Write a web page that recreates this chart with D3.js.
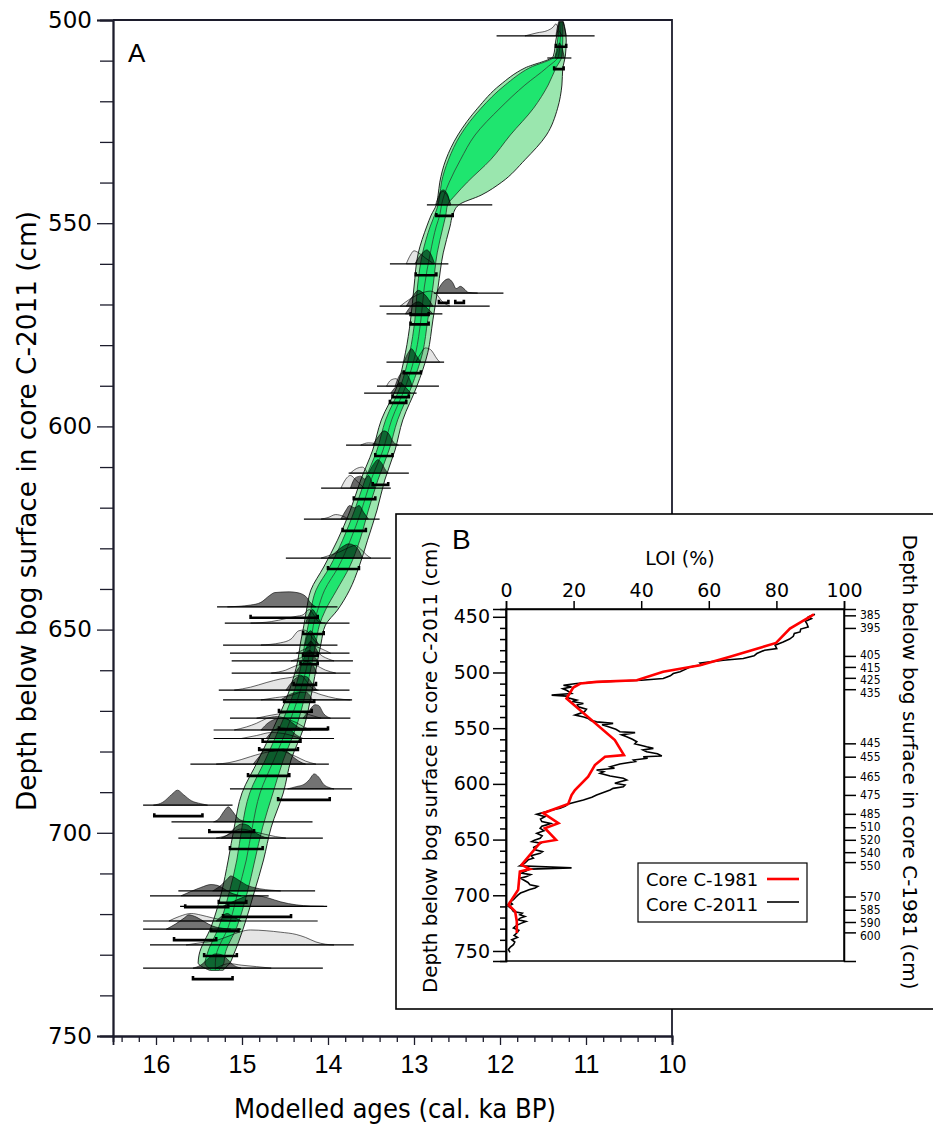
<!DOCTYPE html>
<html><head><meta charset="utf-8">
<script src="https://cdn.jsdelivr.net/npm/d3@7"></script>
<style>body{margin:0;background:#fff}svg{display:block}</style>
</head><body>
<svg id="c" width="933" height="1126"></svg>
<script>
// ---------------- Panel A : age-depth model envelope ----------------
const envDepth   = [500.5,504.9,508.9,511.8,516.0,521.7,528.3,534.4,539.9,543.1,545.5,548.0,550.7,557.3,565.7,573.8,581.9,590.3,598.4,605.8,613.2,620.6,628.0,634.6,640.3,645.2,648.9,653.3,657.5,665.6,674.0,682.1,690.2,698.6,706.7,714.8,723.2,730.1,732.0,733.8];
const envOld95   = [11.31,11.35,11.38,11.71,12.00,12.26,12.49,12.63,12.70,12.72,12.74,12.80,12.85,12.95,13.00,13.04,13.10,13.20,13.38,13.48,13.62,13.74,13.89,14.05,14.20,14.25,14.28,14.32,14.35,14.46,14.63,14.81,15.00,15.09,15.16,15.24,15.36,15.50,15.51,15.38];
const envOld68   = [11.305,11.33,11.36,11.66,11.94,12.22,12.46,12.60,12.68,12.70,12.72,12.76,12.81,12.90,12.96,12.99,13.05,13.16,13.33,13.43,13.57,13.69,13.83,13.98,14.14,14.20,14.23,14.27,14.30,14.40,14.56,14.73,14.91,15.00,15.06,15.15,15.27,15.41,15.43,15.36];
const envMed     = [11.29,11.30,11.32,11.46,11.71,12.00,12.29,12.46,12.59,12.65,12.68,12.70,12.74,12.81,12.88,12.92,12.98,13.10,13.26,13.36,13.50,13.61,13.74,13.88,14.04,14.12,14.17,14.20,14.23,14.33,14.47,14.63,14.79,14.88,14.95,15.05,15.16,15.30,15.31,15.31];
const envYoung68 = [11.27,11.27,11.28,11.35,11.44,11.61,11.88,12.11,12.38,12.52,12.61,12.63,12.66,12.73,12.78,12.84,12.90,13.03,13.19,13.29,13.42,13.53,13.63,13.75,13.90,14.03,14.10,14.14,14.18,14.26,14.37,14.52,14.64,14.76,14.85,14.94,15.06,15.20,15.21,15.27];
const envYoung95 = [11.265,11.23,11.24,11.27,11.28,11.33,11.46,11.71,11.98,12.22,12.48,12.55,12.58,12.66,12.72,12.78,12.84,12.97,13.13,13.22,13.34,13.43,13.54,13.64,13.75,13.89,14.03,14.08,14.12,14.19,14.28,14.43,14.52,14.66,14.75,14.86,14.98,15.10,15.14,15.22];

// ---------------- Panel A : dated levels ----------------
// d: depth (cm); base: age span of baseline (ka); like: unmodelled probability [age, rel. density];
// post: modelled probability; br: 95% ranges; bd: depth of range bar
const samples = [
 {d:503.9,base:[12.04,10.90],like:[[11.71,0],[11.57,0.2],[11.45,0.35],[11.38,0.6],[11.35,0.8],[11.31,0.3],[11.27,0]],post:[[11.35,0],[11.32,0.9],[11.30,1.07],[11.27,1.0],[11.23,0]],br:[[11.35,11.23]],bd:506.6},
 {d:509.35,base:[11.45,11.17],like:[],post:[[11.36,0],[11.33,0.6],[11.31,1.0],[11.28,0.7],[11.25,0]],br:[[11.37,11.26]],bd:512.1},
 {d:545.5,base:[12.85,12.09],like:[[12.75,0],[12.71,0.6],[12.67,0.9],[12.62,0.7],[12.57,0]],post:[[12.73,0],[12.69,0.9],[12.66,1.0],[12.61,0.7],[12.58,0]],br:[[12.74,12.55]],bd:548.2},
 {d:560.0,base:[13.28,12.60],like:[[13.09,0],[13.04,0.6],[13.00,0.87],[12.95,0.75],[12.87,0.4],[12.77,0]],post:[[12.99,0],[12.92,0.6],[12.85,0.93],[12.81,0.7],[12.76,0]],br:[[12.98,12.74]],bd:562.8},
 {d:567.2,base:[12.77,11.96],like:[],post:[[12.74,0],[12.66,0.75],[12.60,0.95],[12.55,0.7],[12.51,0.3],[12.46,0.45],[12.42,0.3],[12.37,0.05],[12.26,0]],br:[[12.71,12.60],[12.52,12.42]],bd:569.6},
 {d:570.4,base:[13.40,12.12],like:[[13.16,0],[13.04,0.5],[12.92,0.85],[12.81,1.0],[12.74,0.8],[12.67,0.3],[12.58,0]],post:[[13.09,0],[13.01,0.7],[12.95,1.05],[12.88,0.8],[12.78,0]],br:[[13.04,12.83]],bd:572.6},
 {d:572.3,base:[13.32,12.67],like:[],post:[[13.10,0],[13.02,0.6],[12.95,0.8],[12.87,0.5],[12.78,0]],br:[[13.04,12.83]],bd:574.9},
 {d:584.2,base:[13.32,12.65],like:[[12.98,0],[12.92,0.6],[12.87,0.95],[12.81,0.85],[12.73,0.2],[12.70,0]],post:[[13.12,0],[13.06,0.7],[13.03,0.9],[12.98,0.5],[12.92,0]],br:[[13.12,12.92]],bd:586.9},
 {d:590.1,base:[13.43,12.71],like:[[13.32,0],[13.27,0.4],[13.21,0.5],[13.16,0]],post:[[13.22,0],[13.18,0.6],[13.12,0.95],[13.07,0.7],[13.02,0]],br:[[13.25,13.06]],bd:592.8},
 {d:591.8,base:[13.58,12.97],like:[],post:[[13.27,0],[13.20,0.5],[13.16,0.7],[13.10,0.4],[13.04,0]],br:[[13.28,13.09]],bd:594.2},
 {d:604.6,base:[13.79,13.03],like:[[13.62,0],[13.53,0.15],[13.45,0.1],[13.39,0]],post:[[13.48,0],[13.41,0.6],[13.35,0.95],[13.30,0.8],[13.24,0.2],[13.18,0]],br:[[13.45,13.25]],bd:607.3},
 {d:611.5,base:[13.76,13.06],like:[[13.74,0],[13.67,0.3],[13.60,0.4],[13.54,0]],post:[[13.53,0],[13.47,0.6],[13.42,0.9],[13.38,0.7],[13.33,0.2],[13.30,0]],br:[[13.48,13.30]],bd:614.4},
 {d:615.2,base:[14.08,13.27],like:[[13.85,0],[13.78,0.7],[13.74,0.85],[13.67,0.5],[13.58,0]],post:[[13.74,0],[13.68,0.7],[13.62,0.8],[13.57,0.6],[13.53,0.85],[13.48,0.3],[13.45,0]],br:[[13.70,13.45]],bd:617.9},
 {d:622.8,base:[14.28,13.40],like:[[14.08,0],[14.00,0.1],[13.91,0.3],[13.83,0.2],[13.76,0]],post:[[13.85,0],[13.79,0.6],[13.75,0.9],[13.69,0.75],[13.64,0.9],[13.58,0.4],[13.53,0]],br:[[13.83,13.56]],bd:625.7},
 {d:632.4,base:[14.49,13.27],like:[[14.08,0],[13.97,0.2],[13.85,0.45],[13.76,0.7],[13.68,0.85],[13.62,0.6],[13.55,0.2],[13.50,0]],post:[[13.99,0],[13.91,0.4],[13.82,0.8],[13.76,0.95],[13.70,0.85],[13.64,0.5],[13.60,0]],br:[[14.00,13.64]],bd:635.1},
 {d:644.4,base:[15.29,13.89],like:[],post:[[15.17,0],[14.90,0.12],[14.78,0.3],[14.68,0.75],[14.62,0.95],[14.45,1.0],[14.36,0.95],[14.26,0.7],[14.20,0.25],[14.14,0]],br:[[14.90,14.12]],bd:647.1},
 {d:648.4,base:[15.20,13.75],like:[[14.90,0],[14.66,0.1],[14.49,0.3],[14.37,0.45],[14.29,0.55],[14.22,0.9],[14.16,0.5],[14.11,0.1],[14.03,0]],post:[[14.26,0],[14.21,0.7],[14.18,0.9],[14.13,0.5],[14.08,0]],br:[[14.29,14.05]],bd:651.1},
 {d:653.8,base:[15.22,13.89],like:[[14.78,0],[14.55,0.15],[14.43,0.4],[14.34,0.95],[14.28,1.0],[14.22,0.8],[14.16,0.3],[14.08,0]],post:[[14.27,0],[14.23,0.8],[14.20,0.95],[14.16,0.6],[14.11,0]],br:[[14.29,14.12]],bd:656.4},
 {d:655.8,base:[15.14,13.75],like:[[14.37,0],[14.26,0.3],[14.18,0.5],[14.08,0.3],[13.97,0]],post:[[14.28,0],[14.23,0.6],[14.20,0.8],[14.15,0.4],[14.11,0]],br:[[14.32,14.12]],bd:658.5},
 {d:657.7,base:[15.12,13.71],like:[[14.43,0],[14.32,0.2],[14.22,0.5],[14.14,0.6],[14.06,0.3],[13.93,0]],post:[[14.29,0],[14.25,0.6],[14.21,0.7],[14.16,0.3],[14.12,0]],br:[],bd:0},
 {d:660.7,base:[15.12,13.74],like:[[14.66,0],[14.49,0.2],[14.37,0.5],[14.26,0.6],[14.14,0.5],[14.03,0.2],[13.91,0]],post:[[14.38,0],[14.32,0.5],[14.26,0.8],[14.20,0.7],[14.13,0]],br:[[14.40,14.14]],bd:663.6},
 {d:664.9,base:[15.27,13.75],like:[[15.09,0],[14.90,0.2],[14.72,0.5],[14.55,0.75],[14.43,0.85],[14.32,1.0],[14.25,0.6],[14.18,0.1],[14.11,0]],post:[[14.49,0],[14.41,0.6],[14.32,0.95],[14.25,0.9],[14.18,0.4],[14.13,0]],br:[[14.51,14.16]],bd:667.8},
 {d:667.3,base:[15.22,13.72],like:[[14.78,0],[14.61,0.15],[14.43,0.3],[14.32,0.5],[14.20,0.55],[14.08,0.35],[13.91,0.1],[13.74,0]],post:[[14.55,0],[14.43,0.4],[14.32,0.55],[14.25,0.5],[14.18,0]],br:[[14.57,14.19]],bd:670.2},
 {d:671.8,base:[15.14,13.74],like:[[14.83,0],[14.66,0.2],[14.49,0.35],[14.32,0.4],[14.20,0.2],[14.08,0]],post:[[14.29,0],[14.22,0.5],[14.15,0.9],[14.11,0.85],[14.05,0.3],[13.97,0]],br:[[14.57,14.00]],bd:674.5},
 {d:674.7,base:[15.33,14.00],like:[[15.09,0],[14.95,0.2],[14.83,0.45],[14.72,0.75],[14.59,0.9],[14.49,0.75],[14.37,0.5],[14.28,0.2],[14.20,0]],post:[[14.78,0],[14.69,0.5],[14.59,0.75],[14.50,0.8],[14.43,0.55],[14.35,0.2],[14.28,0]],br:[[14.76,14.32]],bd:677.6},
 {d:676.8,base:[15.33,13.93],like:[[15.01,0],[14.83,0.2],[14.66,0.4],[14.49,0.3],[14.32,0]],post:[[14.72,0],[14.64,0.5],[14.55,0.7],[14.45,0.6],[14.36,0.2],[14.29,0]],br:[[14.80,14.35]],bd:679.6},
 {d:683.1,base:[15.60,13.99],like:[[15.30,0],[15.15,0.1],[15.01,0.3],[14.90,0.5],[14.78,0.7],[14.66,0.85],[14.57,0.95],[14.49,0.8],[14.37,0.5],[14.26,0.2],[14.14,0]],post:[[14.87,0],[14.80,0.5],[14.73,0.95],[14.66,0.85],[14.59,0.9],[14.52,1.0],[14.43,0.6],[14.34,0.2],[14.26,0]],br:[[14.93,14.45]],bd:686.0},
 {d:689.2,base:[15.14,13.72],like:[],post:[[14.47,0],[14.37,0.15],[14.28,0.3],[14.22,0.6],[14.16,1.0],[14.11,0.8],[14.05,0.3],[13.99,0.1],[13.93,0]],br:[[14.58,13.98]],bd:691.9},
 {d:693.2,base:[16.15,15.11],like:[],post:[[16.03,0],[15.92,0.2],[15.82,0.7],[15.75,1.0],[15.68,0.7],[15.59,0.3],[15.48,0.1],[15.40,0]],br:[[16.02,15.46]],bd:695.9},
 {d:697.3,base:[15.82,14.18],like:[],post:[[15.33,0],[15.27,0.2],[15.21,0.7],[15.16,1.0],[15.11,0.7],[15.05,0.25],[14.98,0.05],[14.90,0]],br:[[15.38,14.86]],bd:699.8},
 {d:701.3,base:[15.74,14.06],like:[[15.30,0],[15.19,0.15],[15.01,0.6],[14.84,0.4],[14.61,0.1],[14.49,0]],post:[[15.24,0],[15.15,0.3],[15.07,0.75],[15.00,0.95],[14.93,0.85],[14.86,0.45],[14.78,0.15],[14.69,0]],br:[[15.14,14.76]],bd:704.0},
 {d:714.3,base:[15.74,14.15],like:[],post:[[15.34,0],[15.24,0.4],[15.17,0.8],[15.13,1.0],[15.06,0.8],[14.95,0.4],[14.80,0.15],[14.66,0.05],[14.55,0]],br:[[15.27,14.95]],bd:717.2},
 {d:715.5,base:[16.07,14.69],like:[],post:[[15.71,0],[15.59,0.3],[15.48,0.55],[15.36,0.75],[15.29,0.7],[15.22,0.5],[15.13,0.2],[15.01,0]],br:[[15.66,15.16]],bd:718.3},
 {d:718.1,base:[15.72,14.01],like:[],post:[[15.22,0],[15.11,0.3],[15.01,0.55],[14.90,0.75],[14.80,0.7],[14.69,0.55],[14.55,0.3],[14.37,0.1],[14.20,0.02],[14.05,0]],br:[[15.22,14.43]],bd:720.7},
 {d:721.7,base:[16.15,14.12],like:[[15.85,0],[15.73,0.3],[15.59,0.5],[15.48,0.4],[15.34,0.2],[15.19,0.05],[15.07,0]],post:[[15.30,0],[15.24,0.3],[15.17,0.5],[15.11,0.3],[15.01,0]],br:[[15.36,15.04]],bd:724.2},
 {d:723.7,base:[16.15,15.01],like:[],post:[[15.88,0],[15.77,0.35],[15.67,0.75],[15.62,0.95],[15.53,0.8],[15.44,0.5],[15.34,0.2],[15.22,0.05],[15.13,0]],br:[[15.79,15.30]],bd:726.4},
 {d:727.6,base:[16.07,13.70],like:[[15.65,0],[15.48,0.15],[15.30,0.3],[15.15,0.6],[15.01,0.9],[14.90,1.0],[14.72,0.95],[14.55,0.85],[14.37,0.7],[14.26,0.5],[14.14,0.2],[14.03,0.05],[13.93,0]],post:[],br:[[15.44,15.06]],bd:730.3},
 {d:733.3,base:[16.15,14.06],like:[[15.30,0],[15.15,0.3],[15.01,0.2],[14.83,0.1],[14.66,0]],post:[[15.57,0],[15.48,0.2],[15.38,0.7],[15.31,0.95],[15.24,0.9],[15.17,0.6],[15.11,0.25],[15.01,0]],br:[[15.57,15.11]],bd:736.0}
];

const ageTicks    = [16,15,14,13,12,11,10];
const depthTicksA = [500,550,600,650,700,750];

// ---------------- Panel B : LOI ----------------
const loiTicks = [0,20,40,60,80,100];
const depthTicksB = [450,500,550,600,650,700,750];
// [depth C-2011 scale (cm), LOI %]
const loi1981 = [[447.8,91.1],[460.6,84],[473.5,79.9],[486,66],[493.5,57.4],[499.4,46.5],[506.9,38.7],[508.4,26.8],[509.9,22],[513.5,19.9],[523.3,17.9],[560.7,32.2],[574.1,34.9],[575.6,29.3],[583.1,26.3],[593.5,24.3],[605.5,20.4],[610,19.4],[618,18.4],[626.3,11],[635.3,15.5],[639.8,11.5],[650.3,14.8],[652.7,10.1],[672.7,4.6],[676.5,7.1],[678.7,4.1],[695,3.6],[708.5,0.7],[714.5,2.7],[723.5,3.2],[733.9,3.2]];
const loi2011 = [[447.8,91.4],[450,89.6],[451.6,90.4],[454,88.6],[456,89],[459.1,89.4],[461,87.2],[463.6,87],[465,85.3],[467.5,85],[470,83.9],[472.6,82],[475.5,79.6],[478.5,80.1],[480,76.5],[483,74.2],[485,73.4],[487.5,70.2],[489,64.3],[490.5,60.4],[491.5,57.4],[493,57.9],[495,54.4],[497,53.2],[499.4,51.5],[500.9,49.5],[503,48.6],[505.4,46.5],[506.9,40],[508.4,26.8],[509.9,20.9],[511.4,17],[512.9,19.4],[514.5,16.8],[515.9,17.9],[518.8,19.4],[520.3,13.5],[521.2,17.9],[523,18.6],[524.8,20.9],[526,19.6],[527.8,22.9],[529,21.1],[530.8,21.4],[533,23.8],[535.3,23.2],[538.3,20.4],[540,23],[541.2,24.3],[543,25.1],[544.3,26.8],[545.7,31.7],[547,28.4],[548.7,30.3],[551,32.5],[553.2,33.7],[554,38.2],[556,34.2],[557.7,35.7],[560,37.4],[562.2,38.7],[564,38.1],[566.7,41.6],[568.1,43.6],[569.5,40.5],[571.1,41.6],[573,44.8],[575,46.1],[575.6,40.6],[577,41.9],[578.6,37.7],[580,38.3],[582.2,33.7],[584.6,30.8],[586,32.1],[587.5,26.8],[589,28.9],[590.5,27.8],[592.9,30.8],[595,34.7],[596.5,35.7],[598,33.7],[599.5,32.2],[601,35.2],[602.5,34.7],[604,31.7],[605.5,30.8],[608,28.6],[610,26.8],[612,25.4],[614.4,22.9],[616,20.9],[618,18.4],[620,17.6],[621.9,16],[623.5,13.6],[624.9,12],[627.2,9.1],[629.4,11.5],[631.5,10.2],[633.9,10.6],[635.5,13.2],[636.8,12],[638,10.6],[639.8,10.1],[642,11.2],[644.3,9.1],[646.5,10.7],[648.8,10.1],[650.5,8.4],[651.8,7.6],[653.3,10.3],[654.8,9.6],[657,8.2],[659.2,8.6],[660.8,10.8],[662.2,10.1],[664.5,7.4],[666.7,8.1],[668,6.6],[669.7,6.1],[671.5,5.4],[673.6,4.1],[675.4,19.4],[676.5,7.1],[678.3,5.9],[680.1,4.6],[681.5,7.3],[683.2,6.1],[684.6,4.3],[686.1,5.1],[688.5,6.5],[690.6,7.1],[692,9.4],[693.5,8.6],[695,6.8],[696.6,5.5],[698,4.3],[699.6,3.6],[702,2.8],[704,2.2],[706,1.2],[708,1.9],[710,0.7],[712,1.6],[714.5,2.2],[716,4.8],[717.5,4.1],[719,5.6],[720.5,4.2],[722,3.6],[723.5,5.9],[725,4.6],[727,3.1],[729.4,2.2],[731.5,3.8],[733.9,3.2],[736,2.4],[737.8,3.4],[739.9,1.7],[742,2.6],[744.4,2.2],[746.5,1.3],[748.8,0.7],[751.3,1.2]];
// C-1981 depth labels, the C-2011 depths of their ticks, and where each label sits
const c1981Labels = ["385","395","405","415","425","435","445","455","465","475","485","510","520","540","550","570","585","590","600"];
const c1981At2011 = [448.7,460,485.1,495,504.8,515,563.6,575.6,593.5,609.9,626.9,638.9,650.2,661.3,670.2,701.1,713,724,733.3];
const c1981LabelAt = [448.4,460.1,484.4,495.4,506.4,518.6,563.3,575.9,593.8,610,627,638.7,650.3,661.9,673.5,701.3,713.1,724.9,736.3];

// ================= drawing =================
const svg = d3.select("#c");
const condensed = "'Liberation Sans Narrow','DejaVu Sans Condensed','Open Sans',sans-serif";

const xA = d3.scaleLinear().domain([16.5,10]).range([113,672]);
const yA = d3.scaleLinear().domain([500,750]).range([20,1036]);
const hA = d3.scaleLinear().domain([0,1]).range([0,15]);

const env = envDepth.map((d,i)=>({d,o95:envOld95[i],o68:envOld68[i],m:envMed[i],y68:envYoung68[i],y95:envYoung95[i]}));
const gEnv = svg.append("g");
gEnv.append("path").datum(env)
  .attr("d",d3.area().curve(d3.curveMonotoneY).y(d=>yA(d.d)).x0(d=>xA(d.o95)).x1(d=>xA(d.y95)))
  .attr("fill","#9ae6ae").attr("stroke","#111").attr("stroke-width",0.9);
gEnv.append("path").datum(env)
  .attr("d",d3.area().curve(d3.curveMonotoneY).y(d=>yA(d.d)).x0(d=>xA(d.o68)).x1(d=>xA(d.y68)))
  .attr("fill","#1fe56f").attr("stroke","#1d3b27").attr("stroke-width",0.8);
gEnv.append("path").datum(env)
  .attr("d",d3.line().curve(d3.curveMonotoneY).y(d=>yA(d.d)).x(d=>xA(d.m)))
  .attr("fill","none").attr("stroke","#2b4434").attr("stroke-width",0.8);

const gS = svg.append("g");
samples.forEach(s=>{
  const y0 = yA(s.d);
  gS.append("line").attr("x1",xA(s.base[0])).attr("x2",xA(s.base[1]))
    .attr("y1",y0).attr("y2",y0).attr("stroke","#000").attr("stroke-width",1.2);
  const ar = d3.area().curve(d3.curveMonotoneX).x(p=>xA(p[0])).y0(y0).y1(p=>y0-hA(p[1]));
  if(s.like.length) gS.append("path").attr("d",ar(s.like)).attr("fill","rgba(0,0,0,0.1)").attr("stroke","#000").attr("stroke-width",0.6);
  if(s.post.length) gS.append("path").attr("d",ar(s.post)).attr("fill","rgba(0,0,0,0.55)").attr("stroke","#000").attr("stroke-width",0.6);
  s.br.forEach(b=>{
    const yb = yA(s.bd);
    gS.append("path").attr("d",`M${xA(b[0])},${yb-3}V${yb}H${xA(b[1])}V${yb-3}`)
      .attr("fill","none").attr("stroke","#000").attr("stroke-width",2.6);
  });
});

// frame A
svg.append("path").attr("d",`M${xA(16.5)},${yA(500)}H${xA(10)}V${yA(750)}`).attr("fill","none").attr("stroke","#1c1c2c").attr("stroke-width",1.8);

// axes A
const axL = svg.append("g").attr("transform",`translate(${xA(16.5)},0)`);
axL.call(d3.axisLeft(yA).tickValues(d3.range(500,751,10).filter(v=>v%50)).tickSize(13).tickFormat(""));
axL.call(g=>g.append("g").call(d3.axisLeft(yA).tickValues(depthTicksA).tickSize(16).tickPadding(5).tickFormat(d3.format("d"))));
axL.selectAll("path.domain").attr("stroke","#1c1c2c").attr("stroke-width",1.8);
axL.selectAll("line").attr("stroke","#1c1c2c").attr("stroke-width",1.3);
axL.selectAll("text").attr("font-family","'DejaVu Sans',sans-serif").attr("font-size",23).attr("fill","#000");

const axB = svg.append("g").attr("transform",`translate(0,${yA(750)})`);
axB.call(d3.axisBottom(xA).tickValues(d3.range(16.4,10.1,-0.2).filter(v=>Math.abs(v-Math.round(v))>0.01)).tickSize(6).tickFormat(""));
axB.call(g=>g.append("g").call(d3.axisBottom(xA).tickValues(ageTicks).tickSize(9).tickPadding(10).tickFormat(d3.format("d"))));
axB.selectAll("path.domain").attr("stroke","#1c1c2c").attr("stroke-width",1.8);
axB.selectAll("line").attr("stroke","#1c1c2c").attr("stroke-width",1.3);
axB.selectAll("text").attr("font-family","'Liberation Sans',Arial,sans-serif").attr("font-size",25).attr("fill","#000");

svg.append("text").attr("x",128).attr("y",62).attr("font-family","'Liberation Sans',Arial,sans-serif").attr("font-size",26).text("A");
svg.append("text").attr("transform","translate(36,511) rotate(-90)").attr("text-anchor","middle")
  .attr("font-family",condensed).attr("font-size",27).attr("textLength",600).attr("lengthAdjust","spacingAndGlyphs")
  .text("Depth below bog surface in core C-2011 (cm)");
svg.append("text").attr("x",395).attr("y",1118).attr("text-anchor","middle")
  .attr("font-family",condensed).attr("font-size",27).attr("textLength",322).attr("lengthAdjust","spacingAndGlyphs")
  .text("Modelled ages (cal. ka BP)");

// ================= Panel B =================
svg.append("rect").attr("x",396).attr("y",514).attr("width",545).attr("height",495)
  .attr("fill","#fff").attr("stroke","#000").attr("stroke-width",1.6);

const xB = d3.scaleLinear().domain([0,100]).range([506,844]);
const yB = d3.scaleLinear().domain([443,759]).range([609,961]);

const pB = svg.append("g");
pB.append("rect").attr("x",xB(0)).attr("y",yB(443)).attr("width",xB(100)-xB(0)).attr("height",yB(759)-yB(443))
  .attr("fill","none").attr("stroke","#000").attr("stroke-width",1.5);

const lineB = d3.line().x(d=>xB(d[1])).y(d=>yB(d[0]));
pB.append("path").datum(loi2011).attr("d",lineB).attr("fill","none").attr("stroke","#000").attr("stroke-width",1.6).attr("stroke-linejoin","miter");
pB.append("path").datum(loi1981).attr("d",lineB).attr("fill","none").attr("stroke","#ff0000").attr("stroke-width",2.6);

const fB = "'DejaVu Sans',sans-serif";
const axT = pB.append("g").attr("transform",`translate(0,${yB(443)})`).call(d3.axisTop(xB).tickValues(loiTicks).tickSize(8).tickPadding(4));
const axLB = pB.append("g").attr("transform",`translate(${xB(0)},0)`);
axLB.call(d3.axisLeft(yB).tickValues(d3.range(450,751,10).filter(v=>v%50)).tickSize(6).tickFormat(""));
axLB.call(g=>g.append("g").call(d3.axisLeft(yB).tickValues(depthTicksB).tickSize(13).tickPadding(3)));
const axR = pB.append("g").attr("transform",`translate(${xB(100)},0)`)
  .call(d3.axisRight(yB).tickValues(c1981At2011).tickSize(12).tickFormat(""));
[axT,axLB,axR].forEach(a=>{a.selectAll("path.domain").attr("stroke","#000").attr("stroke-width",1.5);a.selectAll("line").attr("stroke","#000").attr("stroke-width",1.5);});
axT.selectAll("text").attr("font-family",fB).attr("font-size",19).attr("fill","#000");
axLB.selectAll("text").attr("font-family",fB).attr("font-size",19).attr("fill","#000");
pB.append("g").selectAll("text").data(c1981Labels).join("text")
  .attr("x",xB(100)+16).attr("y",(d,i)=>yB(c1981LabelAt[i])).attr("dy","0.35em")
  .attr("font-family",condensed).attr("font-size",12).attr("fill","#000").text(d=>d);

svg.append("text").attr("x",452).attr("y",549).attr("font-family","'Liberation Sans',Arial,sans-serif").attr("font-size",28).text("B");
svg.append("text").attr("x",680).attr("y",565).attr("text-anchor","middle").attr("font-family",fB).attr("font-size",19).text("LOI (%)");
svg.append("text").attr("transform","translate(437,767) rotate(-90)").attr("text-anchor","middle")
  .attr("font-family",fB).attr("font-size",20).attr("textLength",452).attr("lengthAdjust","spacingAndGlyphs")
  .text("Depth below bog surface in core C-2011 (cm)");
svg.append("text").attr("transform","translate(903,762) rotate(90)").attr("text-anchor","middle")
  .attr("font-family",fB).attr("font-size",20).attr("textLength",455).attr("lengthAdjust","spacingAndGlyphs")
  .text("Depth below bog surface in core C-1981 (cm)");

// legend
const lg = svg.append("g");
lg.append("rect").attr("x",638).attr("y",863).attr("width",169).attr("height",59).attr("fill","#fff").attr("stroke","#000").attr("stroke-width",1.2);
const legItems = [{t:"Core C-1981",c:"#ff0000",w:2.6},{t:"Core C-2011",c:"#000",w:1.6}];
legItems.forEach((it,i)=>{
  lg.append("text").attr("x",646).attr("y",886+i*25).attr("font-family",fB).attr("font-size",18).text(it.t);
  lg.append("line").attr("x1",767).attr("x2",799).attr("y1",879+i*23).attr("y2",879+i*23).attr("stroke",it.c).attr("stroke-width",it.w);
});
</script>
</body></html>
